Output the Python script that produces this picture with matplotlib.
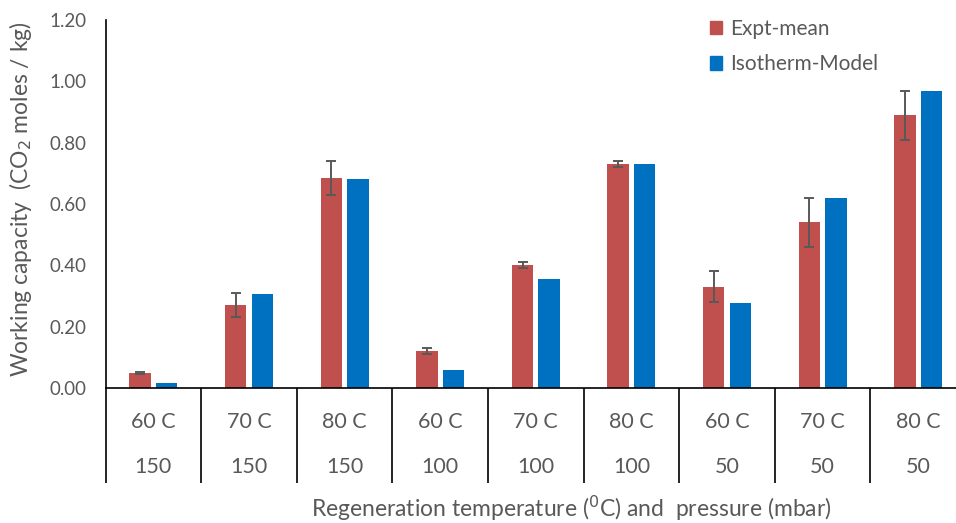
import matplotlib
matplotlib.use("Agg")
import matplotlib.pyplot as plt
import matplotlib.transforms as mtransforms
from matplotlib.patches import Patch
import numpy as np

temps = ["60 C", "70 C", "80 C", "60 C", "70 C", "80 C", "60 C", "70 C", "80 C"]
pressures = ["150", "150", "150", "100", "100", "100", "50", "50", "50"]
expt_mean = [0.05, 0.27, 0.685, 0.12, 0.40, 0.73, 0.33, 0.54, 0.89]
expt_err = [0.003, 0.04, 0.055, 0.01, 0.01, 0.01, 0.05, 0.08, 0.08]
model = [0.015, 0.305, 0.68, 0.058, 0.357, 0.73, 0.278, 0.62, 0.97]
yticks = [0.0, 0.2, 0.4, 0.6, 0.8, 1.0, 1.2]

RED = "#C0504D"
BLUE = "#0070C0"
TXT = "#595959"

plt.rcParams["font.family"] = ["Lato", "DejaVu Sans"]

fig = plt.figure(figsize=(9.56, 5.23), dpi=100)
ax = fig.add_axes([0.1104, 0.2581, 0.9001, 0.7037])

x = np.arange(len(temps))
w = 0.224
off = 0.139
ax.bar(x - off, expt_mean, w, color=RED, label="Expt-mean", zorder=2)
ax.bar(x + off, model, w, color=BLUE, label="Isotherm-Model", zorder=2)
ax.errorbar(x - off, expt_mean, yerr=expt_err, fmt="none", ecolor=TXT,
            elinewidth=1.4, capsize=3.6, capthick=1.4, zorder=3)

ax.set_xlim(-0.5, len(temps) - 0.5)
ax.set_ylim(0, 1.2)
ax.set_yticks(yticks)
ax.set_yticklabels([f"{v:.2f}" for v in yticks], fontsize=13.5, color=TXT)
ax.tick_params(axis="y", length=0, pad=14)

for s in ["top", "right"]:
    ax.spines[s].set_visible(False)
ax.spines["left"].set_color("black")
ax.spines["bottom"].set_color("black")
ax.spines["left"].set_linewidth(1.2)
ax.spines["bottom"].set_linewidth(1.2)

# category separators below the axis
ax.set_xticks(x)
ax.set_xticklabels([])
ax.tick_params(axis="x", which="major", length=0)
ax.set_xticks(np.arange(len(temps) + 1) - 0.5, minor=True)
ax.tick_params(axis="x", which="minor", length=68.4, width=1.2, color="black")

trans = mtransforms.blended_transform_factory(ax.transData, ax.transAxes)
for xi, t, p in zip(x, temps, pressures):
    ax.text(xi, -0.091, t, transform=trans, ha="center", va="center",
            fontsize=15.5, color=TXT)
    ax.text(xi, -0.2147, p, transform=trans, ha="center", va="center",
            fontsize=15.5, color=TXT)

fig.text(571 / 956, 1 - 508 / 523, "Regeneration temperature ($^{0}$C) and  pressure (mbar)",
         ha="center", va="center", fontsize=16.5, color=TXT)
fig.text(21 / 956, 1 - 199 / 523, "Working capacity  (CO$_2$ moles / kg)",
         ha="center", va="center", rotation=90, fontsize=16.5, color=TXT)

handles = [Patch(color=RED), Patch(color=BLUE)]
fig.legend(handles, ["Expt-mean", "Isotherm-Model"], loc="upper left",
           bbox_to_anchor=(691 / 956, 1.0), frameon=False,
           fontsize=15, labelcolor=TXT, handlelength=0.6, handleheight=0.6,
           handletextpad=0.4, labelspacing=0.75)

fig.savefig("out.png", dpi=100)
